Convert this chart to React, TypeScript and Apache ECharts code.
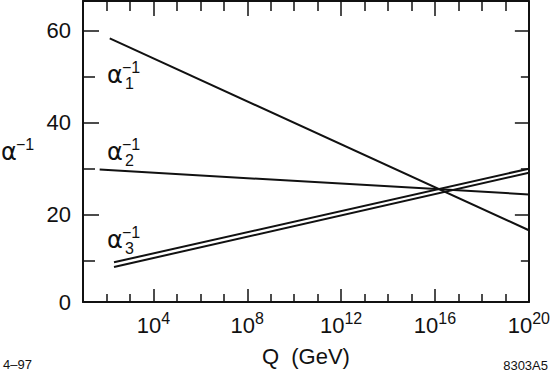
import React, { useEffect, useRef } from "react";
import * as echarts from "echarts";

// log10(Q / GeV) and inverse couplings
const alpha1X = [2.14, 20];
const alpha1Y = [58.35, 16.6];
const alpha2X = [1.71, 20];
const alpha2Y = [29.8, 24.4];
const alpha3aX = [2.32, 20];
const alpha3aY = [9.64, 30.0];
const alpha3bX = [2.32, 20];
const alpha3bY = [8.62, 29.1];

const xMajorTicks = [4, 8, 12, 16, 20];
const xMinorTicks = [2, 3, 5, 6, 7, 9, 10, 11, 13, 14, 15, 17, 18, 19];
const yMajorTicks = [20, 40, 60];
const yMinorTicks = [10, 30, 50];
const yTickValues = [0, 20, 40, 60];
const yTickLabels = ["0", "20", "40", "60"];

const X_MIN = 1;
const X_MAX = 20;
const Y_MIN = 1;
const Y_MAX = 66.47;

const FONT = "'Liberation Sans', Arial, Helvetica, sans-serif";
const GREEK = "'DejaVu Sans', 'Liberation Sans', sans-serif";
const BLACK = "#111";

function pairs(xs: number[], ys: number[]) {
  return xs.map((x, i) => [x, ys[i]]);
}

function alphaLabel(left: number, bottom: number, sub: string | null) {
  const els: any[] = [
    {
      type: "text",
      style: { text: "α", x: left, y: bottom - 8, font: `24px ${GREEK}`, lineHeight: 16, fill: BLACK, textAlign: "left", textVerticalAlign: "middle" },
    },
    {
      type: "text",
      style: { text: "−1", x: left + 15, y: bottom - 15.5, font: `16px ${FONT}`, lineHeight: 14, fill: BLACK, textAlign: "left", textVerticalAlign: "middle" },
    },
  ];
  if (sub) {
    els.push({
      type: "text",
      style: { text: sub, x: left + 18, y: bottom + 0.5, font: `16px ${FONT}`, lineHeight: 14, fill: BLACK, textAlign: "left", textVerticalAlign: "middle" },
    });
  }
  return els;
}

export default function App() {
  const ref = useRef<HTMLDivElement>(null);
  useEffect(() => {
    if (!ref.current) return;
    const chart = echarts.init(ref.current, null, { renderer: "svg" });
    const lineStyle = { color: BLACK, width: 2 };
    const axisLine = { show: true, onZero: false, lineStyle: { color: BLACK, width: 2 } };
    const mkX = (position: string, ticks: number[], len: number, showLine: boolean, labels: boolean) => ({
      type: "value",
      position,
      min: X_MIN,
      max: X_MAX,
      axisLine: showLine ? axisLine : { show: false },
      axisTick: { show: true, inside: true, length: len, customValues: ticks, lineStyle: { color: BLACK, width: 1.5 } },
      axisLabel: labels
        ? {
            show: true,
            customValues: xMajorTicks,
            margin: 8,
            formatter: (v: number) => `{b|10}{s|${v}}`,
            rich: {
              b: { fontSize: 22, fontFamily: FONT, color: BLACK, lineHeight: 30 },
              s: { fontSize: 16, fontFamily: FONT, color: BLACK, verticalAlign: "top", lineHeight: 18 },
            },
          }
        : { show: false },
      splitLine: { show: false },
      name: labels ? "Q  (GeV)" : undefined,
      nameLocation: "middle",
      nameGap: 43,
      nameTextStyle: { fontSize: 22, fontFamily: FONT, color: BLACK },
    });
    const mkY = (position: string, ticks: number[], len: number, showLine: boolean, labels: boolean) => ({
      type: "value",
      position,
      min: Y_MIN,
      max: Y_MAX,
      axisLine: showLine ? axisLine : { show: false },
      axisTick: { show: true, inside: true, length: len, customValues: ticks, lineStyle: { color: BLACK, width: 1.5 } },
      axisLabel: labels
        ? {
            show: true,
            customValues: yTickValues.map((v) => Math.max(v, Y_MIN)),
            margin: 12,
            fontSize: 22,
            fontFamily: FONT,
            color: BLACK,
            padding: [5, 0, 0, 0],
            formatter: (v: number) => {
              const i = yTickValues.findIndex((t) => Math.max(t, Y_MIN) === v);
              return i >= 0 ? yTickLabels[i] : "";
            },
          }
        : { show: false },
      splitLine: { show: false },
    });
    chart.setOption({
      animation: false,
      backgroundColor: "#fff",
      grid: { left: 83, right: 23, top: 1, bottom: 71, containLabel: false },
      xAxis: [
        mkX("bottom", xMajorTicks, 13, true, true),
        mkX("bottom", xMinorTicks, 8, false, false),
        mkX("top", xMajorTicks, 15, true, false),
        mkX("top", xMinorTicks, 10, false, false),
      ],
      yAxis: [
        mkY("left", yMajorTicks, 16, true, true),
        mkY("left", yMinorTicks, 12, false, false),
        mkY("right", yMajorTicks, 14, true, false),
        mkY("right", yMinorTicks, 8, false, false),
      ],
      series: [
        { type: "line", name: "α1⁻¹", data: pairs(alpha1X, alpha1Y), showSymbol: false, lineStyle },
        { type: "line", name: "α2⁻¹", data: pairs(alpha2X, alpha2Y), showSymbol: false, lineStyle },
        { type: "line", name: "α3⁻¹ (a)", data: pairs(alpha3aX, alpha3aY), showSymbol: false, lineStyle },
        { type: "line", name: "α3⁻¹ (b)", data: pairs(alpha3bX, alpha3bY), showSymbol: false, lineStyle },
      ],
      graphic: [
        ...alphaLabel(1, 160, null),
        ...alphaLabel(107, 83, "1"),
        ...alphaLabel(107, 160, "2"),
        ...alphaLabel(107, 248, "3"),
        {
          type: "text",
          style: { text: "4–97", x: 3, y: 364, font: `13px ${FONT}`, fill: BLACK, textAlign: "left", textVerticalAlign: "middle" },
        },
        {
          type: "text",
          style: { text: "8303A5", x: 548, y: 365, font: `13px ${FONT}`, fill: BLACK, textAlign: "right", textVerticalAlign: "middle" },
        },
      ],
    });
    return () => chart.dispose();
  }, []);
  return <div ref={ref} style={{ width: 553, height: 373, position: "absolute", left: 0, top: 0 }} />;
}
